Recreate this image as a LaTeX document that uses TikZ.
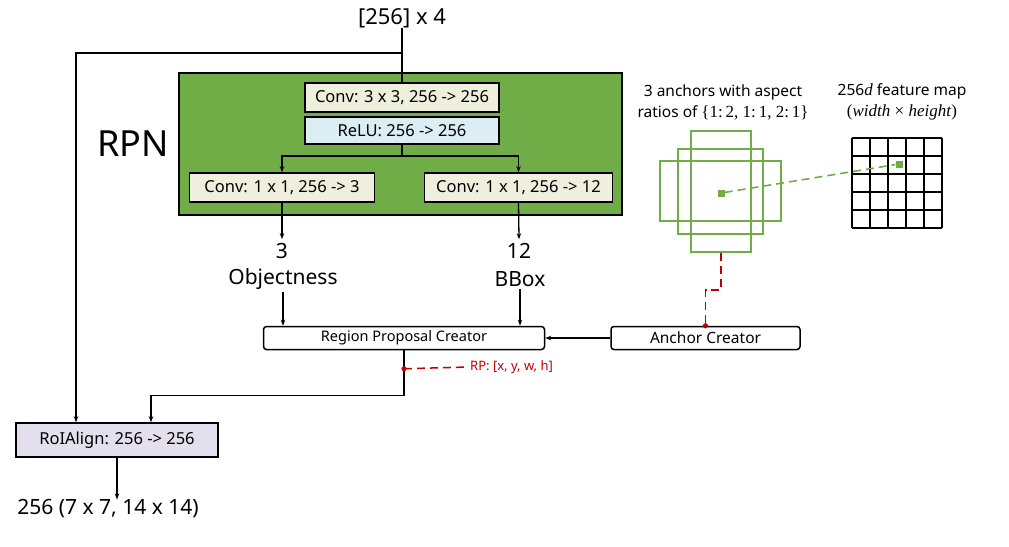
\documentclass[tikz,border=0pt]{standalone}
\usepackage{fontspec}
\setmainfont{Noto Sans}
\newfontfamily\mathlike{Liberation Serif}
\usetikzlibrary{arrows.meta,calc}
\definecolor{rpngreen}{HTML}{70AD47}
\definecolor{convfill}{HTML}{EEEFDD}
\definecolor{relufill}{HTML}{DCEEF3}
\definecolor{roifill}{HTML}{E4DFEC}
\definecolor{rpred}{HTML}{C00000}
\begin{document}
\begin{tikzpicture}[x=1pt,y=-1pt,
  box/.style={draw=black, line width=1.6pt, inner sep=0pt, font=\fontsize{16.5}{18}\selectfont},
  rbox/.style={draw=black, line width=1.5pt, rounded corners=3pt, fill=white, inner sep=0pt, font=\fontsize{14.5}{16}\selectfont},
  conn/.style={line width=1.3pt, -{Stealth[length=6pt,width=4.5pt]}},
  plainline/.style={line width=1.3pt},
  lbl/.style={font=\fontsize{21}{24}\selectfont, inner sep=2pt},
  anchbox/.style={draw=rpngreen, line width=1.6pt, inner sep=0pt},
  reddash/.style={draw=rpred, line width=1.5pt, dash pattern=on 8pt off 5pt},
  greendash/.style={draw=rpngreen, line width=1.6pt, dash pattern=on 8pt off 5pt},
  smalltxt/.style={font=\fontsize{15.5}{21}\selectfont, align=center, inner sep=0pt},
]
\useasboundingbox[fill=white] (0,0) rectangle (1009,546);

% RPN green block
\node[draw=black, line width=1.8pt, fill=rpngreen, minimum width=443pt, minimum height=142pt, inner sep=0pt] (rpn) at (400.5,144) {};
\node[font=\fontsize{36}{40}\selectfont, inner sep=0pt] (rpnlabel) at (133,144) {RPN};

\node[font=\fontsize{22}{24}\selectfont, inner sep=0pt] (in) at (402,18) {[256] x 4};
\node[box, fill=convfill, minimum width=194pt, minimum height=29pt] (conv3) at (402,97.5) {Conv: 3 x 3, 256 -> 256};
\node[box, fill=relufill, minimum width=194pt, minimum height=27pt] (relu) at (402,130.5) {ReLU: 256 -> 256};
\node[box, fill=convfill, minimum width=185pt, minimum height=29pt] (convobj) at (282,187.5) {Conv: 1 x 1, 256 -> 3};
\node[box, fill=convfill, minimum width=188pt, minimum height=29pt] (convbox) at (518.5,187.5) {Conv: 1 x 1, 256 -> 12};

\coordinate (split) at (402,53);
\coordinate (branch) at (402,156);

\node[lbl, inner sep=4pt] (n3) at (282,251) {3};
\node[lbl] (nobj) at (283,279) {Objectness};
\node[lbl, inner sep=4pt] (n12) at (519,251) {12};
\node[lbl] (nbbox) at (520,279) {BBox};

\node[rbox, minimum width=281pt, minimum height=23pt] (rpc) at (404,338) {Region Proposal Creator};
\node[rbox, minimum width=189pt, minimum height=23pt, font=\fontsize{15.5}{17}\selectfont] (ac) at (705.5,338) {Anchor Creator};

\node[box, fill=roifill, minimum width=202pt, minimum height=34pt] (roi) at (117,440) {RoIAlign: 256 -> 256};
\node[lbl, inner sep=0pt] (out) at (108,509) {256 (7 x 7, 14 x 14)};

\node[font=\fontsize{13}{15}\selectfont, text=rpred, anchor=west, inner sep=2pt] (rptext) at (468,367) {RP: [x, y, w, h]};

% anchors
\node[anchbox, minimum width=121pt, minimum height=60pt] (awide) at (720.5,191) {};
\node[anchbox, minimum width=85pt, minimum height=85pt] (asq) at (720.5,191.5) {};
\node[anchbox, minimum width=60pt, minimum height=121pt] (atall) at (721,191.5) {};
\node[fill=rpngreen, minimum size=7pt, inner sep=0pt] (acen) at (721,193) {};
\node[fill=rpngreen, minimum size=7pt, inner sep=0pt] (fcell) at (899,164) {};

\node[smalltxt] (anchtxt) at (723,102) {3 anchors with aspect\\ratios of {\mathlike\fontsize{17}{21}\selectfont\{1:\,2, 1:\,1, 2:\,1\}}};
\node[smalltxt] (fmtxt) at (902,102) {256{\mathlike\itshape\fontsize{17}{21}\selectfont d} feature map\\{\mathlike\fontsize{17}{21}\selectfont(\textit{width} × \textit{height})}};

% feature map grid
\foreach \i in {0,...,5} {
  \draw[line width=1.6pt] (852+18*\i,138) -- (852+18*\i,228);
  \draw[line width=1.6pt] (852,138+18*\i) -- (942,138+18*\i);
}

% connectors
\draw[plainline] (in.south) -- (conv3.north);
\draw[conn] (split) -| ([xshift=-41pt]roi.north);
\draw[plainline] (relu.south) -- (branch);
\draw[conn] (branch) -| (convobj.north);
\draw[conn] (branch) -| (convbox.north);
\draw[conn] (convobj.south) -- (n3.north);
\draw[conn] (convbox.south) -- (n12.north);
\draw[conn] (nobj.south) -- (nobj.south |- rpc.north);
\draw[conn] (nbbox.south) -- (nbbox.south |- rpc.north);
\draw[conn] (ac.west) -- (rpc.east);
\draw[conn] (rpc.south) -- ++(0,45) -| ([xshift=34pt]roi.north);
\draw[conn] (roi.south) -- (roi.south |- out.north);

\coordinate (rpdot) at ($(rpc.south)+(0,18.5)$);
\draw[reddash] (rpdot) -- (rptext.west);
\fill[rpred] (rpdot) circle (2.6pt);

\draw[reddash] (atall.south) -- ++(0,37) -| (ac.north);
\fill[rpred] (ac.north) circle (2.6pt);

\draw[greendash] (acen) -- (fcell);
\end{tikzpicture}
\end{document}
